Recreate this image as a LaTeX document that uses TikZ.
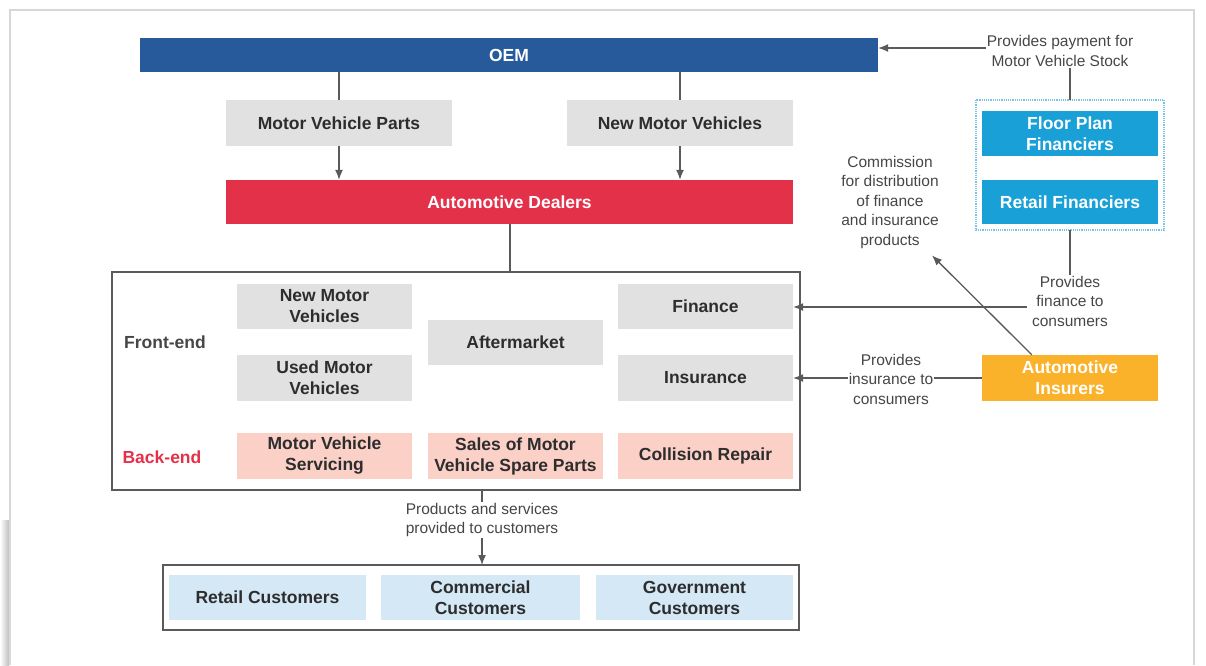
\documentclass[tikz,border=0pt]{standalone}
\usepackage{fontspec}
\setmainfont{Liberation Sans}
\usetikzlibrary{arrows.meta,calc}
\definecolor{oemblue}{RGB}{38,90,155}
\definecolor{dealred}{RGB}{228,49,74}
\definecolor{finblue}{RGB}{24,160,215}
\definecolor{insorange}{RGB}{250,178,42}
\definecolor{boxgray}{RGB}{225,225,225}
\definecolor{boxpink}{RGB}{251,208,199}
\definecolor{boxlblue}{RGB}{212,232,245}
\definecolor{darktext}{RGB}{45,45,45}
\definecolor{labeltext}{RGB}{70,70,70}
\definecolor{linegray}{RGB}{90,90,90}
\definecolor{framegray}{RGB}{215,215,215}
\definecolor{dotblue}{RGB}{120,195,230}
\begin{document}
\begin{tikzpicture}[x=1pt,y=-1pt,
  box/.style={inner sep=0pt, align=center, font=\bfseries\fontsize{17.5}{21}\selectfont, text=darktext},
  graybox/.style={box, fill=boxgray, minimum width=175pt, minimum height=45pt},
  pinkbox/.style={box, fill=boxpink, minimum width=175pt, minimum height=46pt},
  custbox/.style={box, fill=boxlblue, minimum height=45pt},
  whitebox/.style={box, text=white, minimum width=176pt},
  lbl/.style={inner sep=1pt, align=center, font=\fontsize{15.5}{19.5}\selectfont, text=labeltext},
  conn/.style={draw=linegray, line width=1.3pt},
  arr/.style={conn, -{Latex[length=10pt,width=8pt]}},
  frame/.style={draw=linegray, line width=1.4pt}
]
\useasboundingbox (0,0) rectangle (1206,665);
% screenshot frame
\shade[left color=white, right color=black!25] (0,520) rectangle (9,665);
\draw[framegray, line width=1.2pt] (10,665) -- (10,10) -- (1194,10) -- (1194,665);

% top row
\node[box, fill=oemblue, text=white, minimum width=738pt, minimum height=34pt] (oem) at (509,55) {OEM};
\node[box, fill=boxgray, minimum width=226pt, minimum height=46pt] (mvp) at (339,123) {Motor Vehicle Parts};
\node[box, fill=boxgray, minimum width=226pt, minimum height=46pt] (nmv) at (680,123) {New Motor Vehicles};
\node[box, fill=dealred, text=white, minimum width=567pt, minimum height=44pt] (dealers) at (509.5,202) {Automotive Dealers};

% financiers
\draw[dotblue, line width=1.2pt, densely dotted] (976,100) rectangle (1164,230);
\coordinate (dottop) at (1070,100);
\coordinate (dotbot) at (1070,230);
\node[whitebox, fill=finblue, minimum height=45pt] (floor) at (1070,133.5) {Floor Plan\\Financiers};
\node[whitebox, fill=finblue, minimum height=44pt] (retailfin) at (1070,202) {Retail Financiers};
\node[whitebox, fill=insorange, minimum height=46pt] (insurers) at (1070,378) {Automotive\\Insurers};

% labels
\node[lbl] (paylbl) at (1060,51) {Provides payment for\\Motor Vehicle Stock};
\node[lbl] (commlbl) at (890,202) {Commission\\for distribution\\of finance\\and insurance\\products};
\node[lbl] (finlbl) at (1070,301) {Provides\\finance to\\consumers};
\node[lbl] (inslbl) at (891,379) {Provides\\insurance to\\consumers};
\node[lbl] (prodlbl) at (482,520) {Products and services\\provided to customers};

% big box
\draw[frame] (112,272) rectangle (800,490);
\coordinate (bigtop) at (510,272);
\coordinate (bigbot) at (482,490);
\node[box, text=labeltext] (front) at (165,342) {Front-end};
\node[box, text=dealred] (back) at (162,457) {Back-end};
\node[graybox] (newmv) at (324.5,306.5) {New Motor\\Vehicles};
\node[graybox, minimum height=46pt] (usedmv) at (324.5,378) {Used Motor\\Vehicles};
\node[graybox] (after) at (515.5,342.5) {Aftermarket};
\node[graybox] (finance) at (705.5,306.5) {Finance};
\node[graybox, minimum height=46pt] (insurance) at (705.5,378) {Insurance};
\node[pinkbox] (serv) at (324.5,456) {Motor Vehicle\\Servicing};
\node[pinkbox] (spare) at (515.5,456) {Sales of Motor\\Vehicle Spare Parts};
\node[pinkbox] (coll) at (705.5,456) {Collision Repair};

% customers
\draw[frame] (163,565) rectangle (799,630);
\coordinate (custtop) at (482,565);
\node[custbox, minimum width=197pt] (rc) at (267.5,597.5) {Retail Customers};
\node[custbox, minimum width=199pt] (cc) at (480.5,597.5) {Commercial\\Customers};
\node[custbox, minimum width=197pt] (gc) at (694.5,597.5) {Government\\Customers};

% connectors
\draw[conn] (oem.south -| mvp.north) -- (mvp.north);
\draw[conn] (oem.south -| nmv.north) -- (nmv.north);
\draw[arr] (mvp.south) -- (dealers.north -| mvp.south);
\draw[arr] (nmv.south) -- (dealers.north -| nmv.south);
\draw[conn] (dealers.south -| bigtop) -- (bigtop);
\draw[arr] (paylbl.west |- 0,48) -- (oem.east |- 0,48);
\draw[conn] (paylbl.south -| dottop) -- (dottop);
\draw[conn] (dotbot) -- (finlbl.north);
\draw[arr] ($(finlbl.west)+(-4,6)$) -- (finance.east |- 0,307);
\draw[conn] (insurers.west) -- (inslbl.east |- insurers.west);
\draw[arr] (inslbl.west |- insurance.east) -- (insurance.east);
\draw[arr] (insurers.north west) ++(50,0) -- ($(commlbl.south)+(42,6)$);
\draw[conn] (bigbot) -- (prodlbl.north);
\draw[arr] (prodlbl.south) -- (custtop);
\end{tikzpicture}
\end{document}
